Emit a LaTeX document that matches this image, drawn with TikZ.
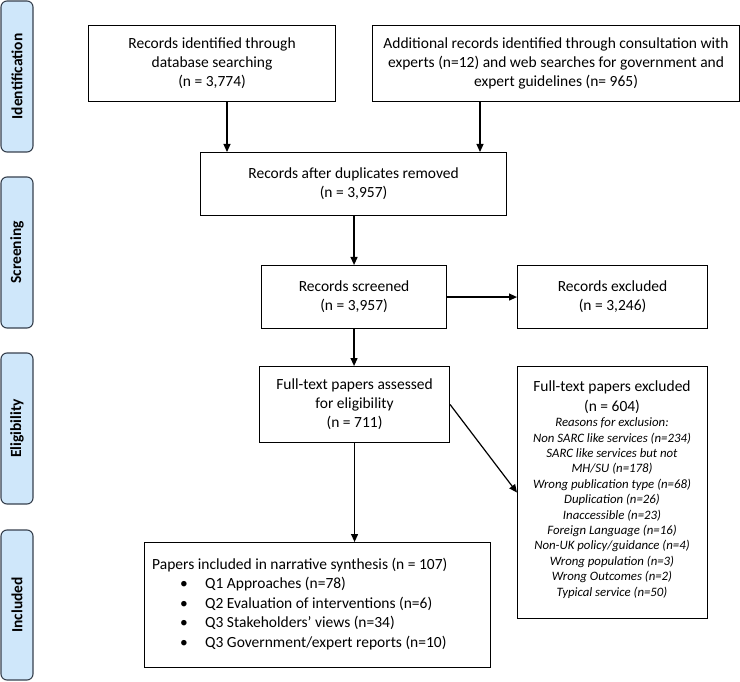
\documentclass[tikz,border=0pt]{standalone}
\usepackage{fontspec}
\setmainfont{Carlito}
\usetikzlibrary{arrows.meta}
\definecolor{sidefill}{RGB}{207,231,250}
\definecolor{sidedraw}{RGB}{55,65,78}
\begin{document}
\begin{tikzpicture}[x=1pt,y=-1pt,
  box/.style={draw=black, line width=1.1pt, inner sep=0pt, anchor=north west, align=center,
    font=\fontsize{15.5}{19}\selectfont},
  plain/.style={inner sep=0pt, align=center},
  side/.style={draw=sidedraw, fill=sidefill, line width=1.1pt, rounded corners=6pt, rotate=90,
    minimum height=32pt, inner sep=0pt, font=\fontsize{15.5}{19}\selectfont\bfseries},
  arr/.style={line width=1.2pt, -{Triangle[length=8pt,width=7pt]}}]
\useasboundingbox (0,0) rectangle (740,682);
% side labels
\node[side, minimum width=151pt] (sid) at (17,76.5) {Identification};
\node[side, minimum width=151pt] (sscr) at (17,252.5) {Screening};
\node[side, minimum width=151pt] (selg) at (17,428.5) {Eligibility};
\node[side, minimum width=150pt] (sinc) at (17,605) {Included};
% boxes
\node[box, minimum width=247pt, minimum height=76pt] (b1) at (88,25)
  {Records identified through\\database searching\\(n = 3,774)};
\node[box, minimum width=367pt, minimum height=76pt] (b2) at (372,25)
  {Additional records identified through consultation with\\experts (n=12) and web searches for government and\\expert guidelines (n= 965)};
\node[box, minimum width=306pt, minimum height=63pt] (b3) at (200,152)
  {Records after duplicates removed\\(n = 3,957)};
\node[box, minimum width=185pt, minimum height=63pt] (b4) at (261,265)
  {Records screened\\(n = 3,957)};
\node[box, minimum width=190pt, minimum height=63pt] (b5) at (517,265)
  {Records excluded\\(n = 3,246)};
\node[box, minimum width=190pt, minimum height=76pt] (b6) at (259,366)
  {Full-text papers assessed\\for eligibility\\(n = 711)};
\node[box, minimum width=190pt, minimum height=252pt] (b7) at (517,366) {};
\node[plain, font=\fontsize{15.5}{19.5}\selectfont] (b7h) at (612,397)
  {Full-text papers excluded\\(n = 604)};
\node[plain, font=\fontsize{12.8}{15.4}\selectfont\itshape] (b7r) at (612,508)
  {Reasons for exclusion:\\Non SARC like services (n=234)\\SARC like services but not\\MH/SU (n=178)\\Wrong publication type (n=68)\\Duplication (n=26)\\Inaccessible (n=23)\\Foreign Language (n=16)\\Non-UK policy/guidance (n=4)\\Wrong population (n=3)\\Wrong Outcomes (n=2)\\Typical service (n=50)};
\node[box, minimum width=346pt, minimum height=125pt] (b8) at (144,542) {};
\node[plain, align=left, anchor=west, font=\fontsize{15.5}{19.5}\selectfont] (b8t) at (152,604)
  {Papers included in narrative synthesis (n = 107)\\
   \hspace*{28pt}\makebox[25pt][l]{\textbullet}Q1 Approaches (n=78)\\
   \hspace*{28pt}\makebox[25pt][l]{\textbullet}Q2 Evaluation of interventions (n=6)\\
   \hspace*{28pt}\makebox[25pt][l]{\textbullet}Q3 Stakeholders’ views (n=34)\\
   \hspace*{28pt}\makebox[25pt][l]{\textbullet}Q3 Government/expert reports (n=10)};
% connectors
\draw[arr] ([xshift=139pt]b1.south west) -- ([xshift=139pt]b1.south west |- b3.north);
\draw[arr] ([xshift=108pt]b2.south west) -- ([xshift=108pt]b2.south west |- b3.north);
\draw[arr] (b3.south -| b4.north) -- (b4.north);
\draw[arr] (b4.east) -- (b5.west);
\draw[arr] (b4.south) -- (b4.south |- b6.north);
\draw[arr] (b6.south) -- (b6.south |- b8.north);
\draw[arr] (b6.east) -- (b7.west);
\end{tikzpicture}
\end{document}
